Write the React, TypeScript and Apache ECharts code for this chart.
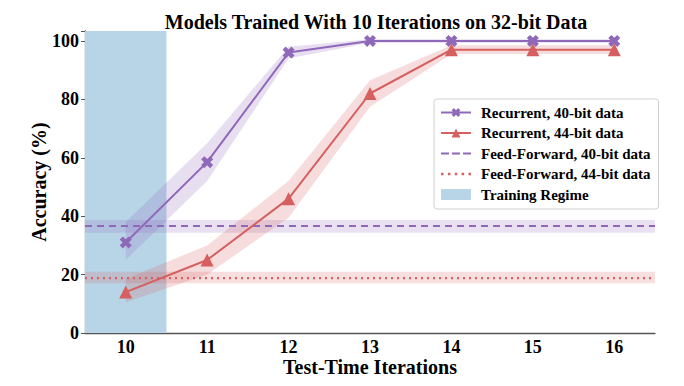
import React, { useEffect, useRef } from "react";
import * as echarts from "echarts";

const iterations = [10, 11, 12, 13, 14, 15, 16];
const rec40 = [31, 58.5, 96, 100, 100, 100, 100];
const rec40Lo = [25, 52, 94, 99.4, 99.4, 99.4, 99.4];
const rec40Hi = [38, 65, 98, 100.6, 100.6, 100.6, 100.6];
const rec44 = [14, 25, 46, 82, 97, 97, 97];
const rec44Lo = [10.5, 20, 39.5, 77.5, 95.5, 95.5, 95.5];
const rec44Hi = [18.5, 30, 52, 86.5, 98.5, 98.5, 98.5];
const ff40 = 36.6;
const ff40Band = [34.3, 38.7];
const ff44 = 18.8;
const ff44Band = [17, 21];
const trainingRange = [9.5, 10.5];
const xRange = [9.5, 16.5];

const PURPLE = "#9068b9";
const RED = "#d65f5f";
const TRAIN = "#b8d5e8";
const FONT = "'Liberation Serif', 'Times New Roman', serif";
const X_MARK = "path://M0,2.6 L2.6,0 L5,2.4 L7.4,0 L10,2.6 L7.6,5 L10,7.4 L7.4,10 L5,7.6 L2.6,10 L0,7.4 L2.4,5 Z";
const DASH_ICON = "path://M0,0h8v2.2h-8zM11,0h8v2.2h-8zM22,0h8v2.2h-8z";
const DOT_ICON = "path://M0,0h2.4v2.4h-2.4zM6.6,0h2.4v2.4h-2.4zM13.2,0h2.4v2.4h-2.4zM19.8,0h2.4v2.4h-2.4zM26.4,0h2.4v2.4h-2.4z";

export default function App() {
  const ref = useRef<HTMLDivElement>(null);
  useEffect(() => {
    document.body.style.margin = "0";
    const chart = echarts.init(ref.current!, null, { renderer: "svg" });
    const pts = (ys: number[]) => ys.map((v, i) => [iterations[i], v]);
    const band = (name: string, lo: number[], hi: number[], color: string) => ({
      name, type: "custom", silent: true, z: 2,
      data: [[iterations[0], lo[0]]],
      renderItem: (_p: any, api: any) => {
        const lower = lo.map((v, i) => api.coord([iterations[i], v]));
        const upper = hi.map((v, i) => api.coord([iterations[i], v])).reverse();
        return {
          type: "polygon",
          shape: { points: [...lower, ...upper] },
          style: { fill: color, opacity: 0.22 },
        };
      },
    });
    chart.setOption({
      animation: false,
      title: {
        text: "Models Trained With 10 Iterations on 32-bit Data",
        left: 371, top: 7, textAlign: "center",
        textStyle: { fontFamily: FONT, fontWeight: "bold", fontSize: 20, color: "#000" },
      },
      grid: { left: 85, right: 29, top: 31, bottom: 53 },
      legend: {
        orient: "vertical", left: 434, top: 99,
        itemWidth: 30, itemHeight: 11, itemGap: 5.5,
        padding: [6, 8, 7, 6],
        borderColor: "#d0d0d0", borderWidth: 1, borderRadius: 3,
        backgroundColor: "rgba(255,255,255,0.85)",
        textStyle: { fontFamily: FONT, fontWeight: "bold", fontSize: 15, color: "#000", padding: [0, 0, 0, 5] },
        data: [
          { name: "Recurrent, 40-bit data" },
          { name: "Recurrent, 44-bit data" },
          { name: "Feed-Forward, 40-bit data", icon: DASH_ICON },
          { name: "Feed-Forward, 44-bit data", icon: DOT_ICON },
          { name: "Training Regime", icon: "rect" },
        ],
      },
      xAxis: [
        { type: "value", min: xRange[0], max: xRange[1], show: false },
        {
          type: "category", data: iterations.map(String), position: "bottom", boundaryGap: true,
          axisLine: { lineStyle: { color: "#555", width: 1.3 } },
          axisTick: { alignWithLabel: true, length: 4, lineStyle: { color: "#555" } },
          axisLabel: { fontFamily: FONT, fontWeight: "bold", fontSize: 18, color: "#000", margin: 5, lineHeight: 18 },
          name: "Test-Time Iterations", nameLocation: "middle", nameGap: 24, nameMoveOverlap: false,
          nameTextStyle: { fontFamily: FONT, fontWeight: "bold", fontSize: 20, color: "#000", lineHeight: 20 },
        },
      ],
      yAxis: {
        type: "value", min: 0, max: 103.4, interval: 20,
        splitLine: { show: false },
        axisLine: { show: true, lineStyle: { color: "#555", width: 1.3 } },
        axisTick: { show: true, length: 4, lineStyle: { color: "#555" } },
        axisLabel: {
          fontFamily: FONT, fontWeight: "bold", fontSize: 18, color: "#000", margin: 6,
          formatter: (v: number) => (v % 20 === 0 ? String(v) : ""),
        },
        name: "Accuracy (%)", nameLocation: "middle", nameGap: 36, nameMoveOverlap: false,
        nameTextStyle: { fontFamily: FONT, fontWeight: "bold", fontSize: 20, color: "#000" },
      },
      series: [
        {
          name: "Training Regime", type: "line", data: [[xRange[0], null]], symbol: "none",
          itemStyle: { color: TRAIN }, lineStyle: { opacity: 0 }, z: 1, silent: true,
          markArea: {
            silent: true, itemStyle: { color: TRAIN, opacity: 1 },
            data: [[{ xAxis: trainingRange[0] }, { xAxis: trainingRange[1] }]],
          },
        },
        {
          name: "ff40band", type: "line", data: [[xRange[0], null]], symbol: "none", z: 2, silent: true,
          lineStyle: { opacity: 0 },
          markArea: {
            silent: true, itemStyle: { color: PURPLE, opacity: 0.2 },
            data: [[{ yAxis: ff40Band[0] }, { yAxis: ff40Band[1] }]],
          },
        },
        {
          name: "ff44band", type: "line", data: [[xRange[0], null]], symbol: "none", z: 2, silent: true,
          lineStyle: { opacity: 0 },
          markArea: {
            silent: true, itemStyle: { color: RED, opacity: 0.2 },
            data: [[{ yAxis: ff44Band[0] }, { yAxis: ff44Band[1] }]],
          },
        },
        band("r40band", rec40Lo, rec40Hi, PURPLE),
        band("r44band", rec44Lo, rec44Hi, RED),
        {
          name: "Feed-Forward, 40-bit data", type: "line", z: 3,
          data: [[xRange[0], ff40], [xRange[1], ff40]], symbol: "none",
          itemStyle: { color: PURPLE },
          lineStyle: { color: PURPLE, width: 2, type: [7, 5] },
        },
        {
          name: "Feed-Forward, 44-bit data", type: "line", z: 3,
          data: [[xRange[0], ff44], [xRange[1], ff44]], symbol: "none",
          itemStyle: { color: RED },
          lineStyle: { color: RED, width: 2.2, type: [2, 4] },
        },
        {
          name: "Recurrent, 40-bit data", type: "line", z: 4,
          data: pts(rec40), symbol: X_MARK, symbolSize: 12,
          itemStyle: { color: PURPLE }, lineStyle: { color: PURPLE, width: 2 },
        },
        {
          name: "Recurrent, 44-bit data", type: "line", z: 4,
          data: pts(rec44), symbol: "triangle", symbolSize: 13,
          itemStyle: { color: RED }, lineStyle: { color: RED, width: 2 },
        },
      ],
    });
    return () => chart.dispose();
  }, []);
  return <div ref={ref} style={{ width: 684, height: 386 }} />;
}
